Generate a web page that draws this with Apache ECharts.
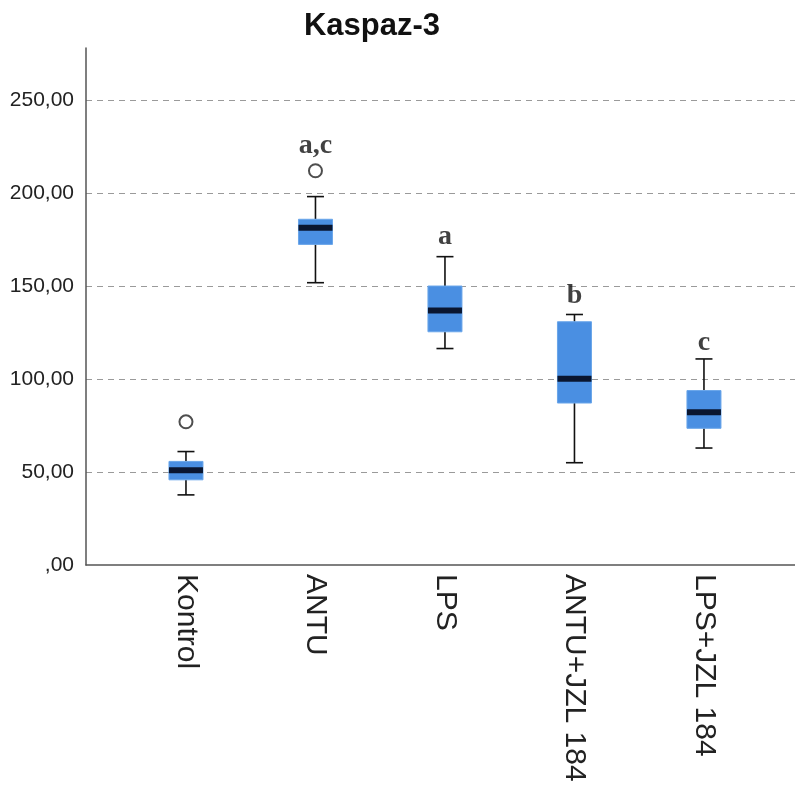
<!DOCTYPE html>
<html>
<head>
<meta charset="utf-8">
<script src="https://cdn.jsdelivr.net/npm/echarts@6/dist/echarts.min.js"></script>
<style>
html,body{margin:0;padding:0;background:#fff;}
#c{width:795px;height:790px;}
</style>
</head>
<body>
<div id="c"></div>
<script>
const categories = ['Kontrol', 'ANTU', 'LPS', 'ANTU+JZL 184', 'LPS+JZL 184'];
const whiskerLow  = [37.7, 151.8, 116.4, 55.0, 62.9];
const q1          = [45.8, 172.4, 125.4, 87.1, 73.5];
const medians     = [51.0, 181.4, 136.9, 100.2, 82.1];
const q3          = [55.7, 185.9, 150.0, 130.8, 93.8];
const whiskerHigh = [61.0, 198.1, 165.8, 134.7, 110.8];
const outlierCat  = [0, 1];
const outlierVal  = [77.0, 212.0];
const sigLabels   = ['', 'a,c', 'a', 'b', 'c'];
const sigY        = [0, 225.2, 176.7, 144.9, 119.6];
const yTicks      = [0, 50, 100, 150, 200, 250];

const boxData = categories.map((c, i) => [i, whiskerLow[i], q1[i], medians[i], q3[i], whiskerHigh[i]]);
const outData = outlierCat.map((c, i) => [c, outlierVal[i]]);
const sigData = categories.map((c, i) => [i, sigY[i], sigLabels[i]]).filter(d => d[2] !== '');

const chart = echarts.init(document.getElementById('c'), null, {renderer: 'canvas'});

function renderBox(params, api) {
  const x = api.value(0);
  const pLow = api.coord([x, api.value(1)]);
  const pQ1 = api.coord([x, api.value(2)]);
  const pMed = api.coord([x, api.value(3)]);
  const pQ3 = api.coord([x, api.value(4)]);
  const pHigh = api.coord([x, api.value(5)]);
  const bw = 34, cw = 17;
  const cx = pMed[0];
  const black = {stroke: '#111', lineWidth: 1.6};
  return {
    type: 'group',
    children: [
      {type: 'line', shape: {x1: cx, y1: pHigh[1], x2: cx, y2: pQ3[1]}, style: black},
      {type: 'line', shape: {x1: cx, y1: pQ1[1], x2: cx, y2: pLow[1]}, style: black},
      {type: 'line', shape: {x1: cx - cw / 2, y1: pHigh[1], x2: cx + cw / 2, y2: pHigh[1]}, style: black},
      {type: 'line', shape: {x1: cx - cw / 2, y1: pLow[1], x2: cx + cw / 2, y2: pLow[1]}, style: black},
      {type: 'rect', shape: {x: cx - bw / 2, y: pQ3[1], width: bw, height: pQ1[1] - pQ3[1]},
        style: {fill: '#4a8fe2', stroke: '#6aa6ea', lineWidth: 1}},
      {type: 'line', shape: {x1: cx - bw / 2, y1: pMed[1], x2: cx + bw / 2, y2: pMed[1]},
        style: {stroke: '#0a1630', lineWidth: 6}}
    ]
  };
}

chart.setOption({
  animation: false,
  title: {
    text: 'Kaspaz-3',
    left: 367,
    textAlign: 'center',
    top: 6,
    textStyle: {fontFamily: 'Liberation Sans', fontWeight: 'bold', fontSize: 31, color: '#111'}
  },
  grid: {left: 86, right: 0, top: 48, bottom: 225, containLabel: false},
  xAxis: {
    type: 'value',
    min: -0.772,
    max: 4.703,
    axisLine: {show: true, onZero: false, lineStyle: {color: '#555', width: 1.5}},
    axisTick: {show: false},
    splitLine: {show: false},
    axisLabel: {
      customValues: [0, 1, 2, 3, 4],
      rotate: -90,
      margin: 9,
      fontFamily: 'Liberation Sans',
      fontSize: 30,
      color: '#222',
      formatter: v => categories[Math.round(v)]
    }
  },
  yAxis: {
    type: 'value',
    min: 0,
    max: 278,
    interval: 50,
    axisLine: {show: true, onZero: false, lineStyle: {color: '#555', width: 1.5}},
    axisTick: {show: false},
    splitLine: {show: true, showMinLine: false, showMaxLine: false,
      lineStyle: {color: '#9a9a9a', type: [6, 5], width: 1}},
    axisLabel: {
      margin: 12,
      fontFamily: 'Liberation Sans',
      fontSize: 21,
      color: '#222',
      formatter: v => (yTicks.indexOf(v) >= 0 ? (v === 0 ? ',00' : v.toFixed(2).replace('.', ',')) : '')
    }
  },
  series: [
    {
      type: 'custom',
      renderItem: renderBox,
      data: boxData,
      encode: {x: 0, y: [1, 2, 3, 4, 5]},
      z: 3
    },
    {
      type: 'scatter',
      data: outData,
      symbol: 'circle',
      symbolSize: 13,
      itemStyle: {color: '#fff', borderColor: '#222', borderWidth: 2},
      z: 4
    },
    {
      type: 'scatter',
      data: sigData,
      symbolSize: 0,
      label: {
        show: true,
        position: 'inside',
        formatter: p => p.data[2],
        fontFamily: 'Liberation Serif',
        fontWeight: 'bold',
        fontSize: 28,
        color: '#111'
      },
      z: 5
    }
  ]
});
</script>
</body>
</html>
